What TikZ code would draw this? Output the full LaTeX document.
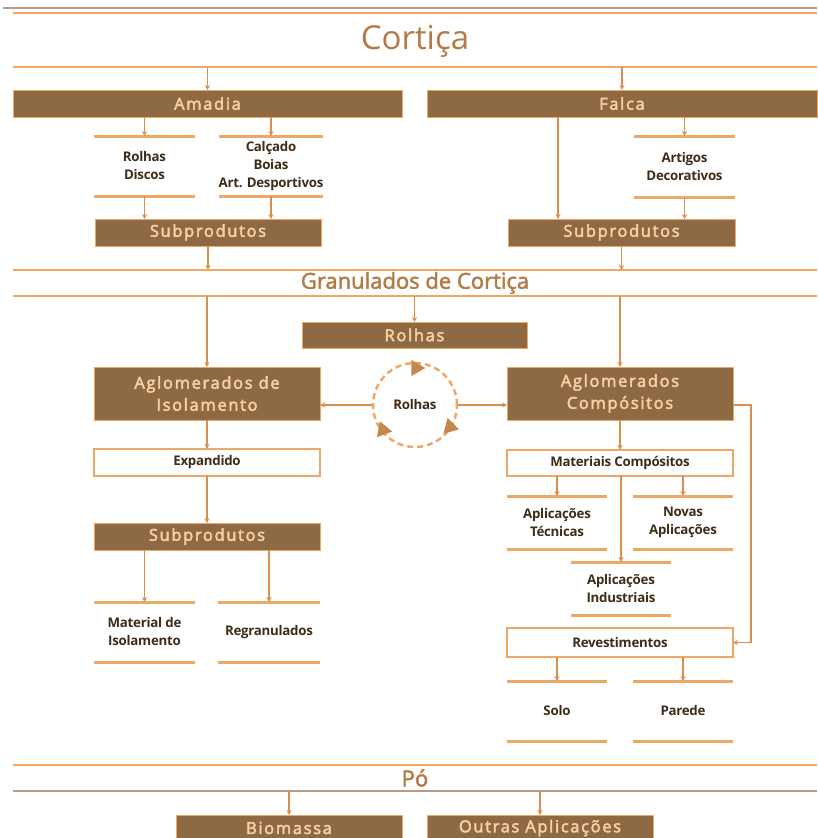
\documentclass[tikz,border=0pt]{standalone}
\usepackage{fontspec}
\setmainfont{Open Sans}
\newfontfamily\boxfont[LetterSpace=10,FakeBold=3]{Open Sans}
\newfontfamily\headfont[FakeBold=2]{Open Sans}
\newfontfamily\labfont[LetterSpace=-2]{Open Sans}
\usetikzlibrary{arrows.meta,shapes.geometric,calc}

\definecolor{boxbrown}{HTML}{8E6A44}
\definecolor{peach}{HTML}{F6CFA2}
\definecolor{lineorange}{HTML}{EFA766}
\definecolor{arrowor}{HTML}{D98F4E}
\definecolor{titlecol}{HTML}{B27A45}
\definecolor{darktext}{HTML}{3F2C18}
\definecolor{graysep}{HTML}{B79C86}
\definecolor{tricol}{HTML}{C4874C}

\tikzset{
  darkbox/.style={fill=boxbrown, draw=lineorange, line width=0.8pt, inner sep=0pt, outer sep=0pt,
    text=peach, font=\boxfont\fontsize{16.5}{22}\selectfont, align=center,
    minimum width=226pt, minimum height=27pt},
  whitebox/.style={fill=white, draw=lineorange, line width=1.5pt, inner sep=0pt, outer sep=0pt,
    text=darktext, font=\labfont\bfseries\fontsize{13.3}{18}\selectfont, align=center,
    minimum width=226pt, minimum height=27pt},
  barred/.style={inner sep=0pt, outer sep=0pt, text=darktext, align=center,
    font=\labfont\bfseries\fontsize{13.3}{18}\selectfont, minimum width=101pt, minimum height=60pt},
  band/.style={inner sep=0pt, outer sep=0pt, text=titlecol, minimum width=804pt},
  bar/.style={draw=lineorange, line width=3pt},
  sepline/.style={draw=lineorange, line width=2.5pt},
  thinsep/.style={draw=graysep, line width=1.3pt},
  arr/.style={draw=arrowor, line width=1.4pt, -{Stealth[length=5pt,width=5pt]}},
  tri/.style={isosceles triangle, isosceles triangle apex angle=60, fill=tricol,
    inner sep=0pt, minimum height=14pt},
}

\begin{document}
\begin{tikzpicture}[x=1pt,y=-1pt]
\useasboundingbox (0,0) rectangle (817,838);

% title band
\draw[thinsep] (3,8) -- (817,8);
\node[band, minimum height=52pt, font=\fontsize{33}{36}\selectfont] (cortica) at (415,41) {Cortiça};
\draw[sepline] (13,13) -- (817,13);
\draw[sepline] (cortica.south west) -- (cortica.south east);

% first level
\node[darkbox, minimum width=389pt] (amadia) at (207.5,103.5) {Amadia};
\node[darkbox, minimum width=390pt] (falca) at (622,103.5) {Falca};

\node[barred] (rd) at (144.5,166) {Rolhas\\Discos};
\node[barred, minimum width=100pt] (cb) at (271,166) {Calçado\\Boias\\Art. Desportivos};
\node[barred, minimum height=61pt] (ad) at (684.5,166.5) {Artigos\\Decorativos};

\node[darkbox] (subL) at (208,232.5) {Subprodutos};
\node[darkbox, minimum width=227pt] (subR) at (621.5,232.5) {Subprodutos};

% granulados band
\node[band, minimum height=26pt, font=\headfont\fontsize{22}{24}\selectfont] (gran) at (415,283) {Granulados de Cortiça};
\draw[sepline] (gran.north west) -- (gran.north east);
\draw[sepline] (gran.south west) -- (gran.south east);

\node[darkbox, minimum width=225pt, minimum height=26pt] (rolhas) at (414.5,335) {Rolhas};
\node[darkbox, minimum height=53pt] (agiso) at (207,393.5) {Aglomerados de\\Isolamento};
\node[darkbox, minimum height=53pt] (agcomp) at (620,393.5) {Aglomerados\\Compósitos};

% recycling circle
\node[circle, draw=lineorange, line width=2.5pt, dash pattern=on 6pt off 4pt,
  minimum size=84pt, inner sep=0pt, text=darktext,
  font=\labfont\bfseries\fontsize{13.3}{18}\selectfont] (cycle) at (415,405) {Rolhas};
\node[tri] (t1) at ($(cycle.center)+(1,-37)$) {};
\node[tri, rotate=-15] (t2) at ($(cycle.center)+(35,22)$) {};
\node[tri, rotate=-10] (t3) at ($(cycle.center)+(-32,25)$) {};

% insulation branch
\node[whitebox] (expand) at (207,462.5) {Expandido};
\node[darkbox] (subI) at (207,536.5) {Subprodutos};
\node[barred] (mi) at (144.5,632) {Material de\\Isolamento};
\node[barred, minimum width=102pt] (rg) at (269,632) {Regranulados};

% composite branch
\node[whitebox, minimum height=26pt] (mat) at (620,463) {Materiais Compósitos};
\node[barred, minimum width=100pt, minimum height=53pt] (at) at (557,522.5) {Aplicações\\Técnicas};
\node[barred, minimum width=100pt, minimum height=53pt] (na) at (683,522.5) {Novas\\Aplicações};
\node[barred, minimum width=100pt, minimum height=53pt] (ai) at (621,588.5) {Aplicações\\Industriais};
\node[whitebox, minimum height=29pt] (revest) at (620,642.5) {Revestimentos};
\node[barred, minimum width=100pt] (so) at (557,711) {Solo};
\node[barred, minimum width=100pt] (pa) at (683,711) {Parede};

% dust band
\node[band, minimum height=26pt, font=\headfont\fontsize{22}{24}\selectfont] (po) at (415,778) {Pó};
\draw[sepline] (po.north west) -- (po.north east);
\draw[thinsep] (po.south west) -- (po.south east);
\node[darkbox, minimum height=26pt] (bio) at (289,828) {Biomassa};
\node[darkbox, minimum height=26pt] (outras) at (540,828) {Outras Aplicações};

% bars above and below the plain labels
\foreach \n in {rd,cb,ad,mi,rg,at,na,ai,so,pa}{
  \draw[bar] (\n.north west) -- (\n.north east) (\n.south west) -- (\n.south east);
}

% connectors
\coordinate (fx) at (558,0);
\draw[arr] (cortica.south -| amadia.north) -- (amadia.north);
\draw[arr] (cortica.south -| falca.north) -- (falca.north);
\draw[arr] (rd.north |- amadia.south) -- (rd.north);
\draw[arr] (cb.north |- amadia.south) -- (cb.north);
\draw[arr] (rd.south) -- (rd.south |- subL.north);
\draw[arr] (cb.south) -- (cb.south |- subL.north);
\draw[arr] (ad.north |- falca.south) -- (ad.north);
\draw[arr] (ad.south) -- (ad.south |- subR.north);
\draw[arr] (falca.south -| fx) -- (subR.north -| fx);
\draw[arr] (subL.south) -- (subL.south |- gran.north);
\draw[arr] (subR.south) -- (subR.south |- gran.north);

\draw[arr] (agiso.north |- gran.south) -- (agiso.north);
\draw[arr] (rolhas.north |- gran.south) -- (rolhas.north);
\draw[arr] (agcomp.north |- gran.south) -- (agcomp.north);
\draw[arr] (cycle.west) -- (cycle.west -| agiso.east);
\draw[arr] (cycle.east) -- (cycle.east -| agcomp.west);

\draw[arr] (agiso.south) -- (expand.north);
\draw[arr] (expand.south) -- (subI.north);
\draw[arr] (mi.north |- subI.south) -- (mi.north);
\draw[arr] (rg.north |- subI.south) -- (rg.north);

\draw[arr] (agcomp.south) -- (mat.north);
\draw[arr] (at.north |- mat.south) -- (at.north);
\draw[arr] (na.north |- mat.south) -- (na.north);
\draw[arr] (ai.north |- mat.south) -- (ai.north);
\draw[arr] (cycle.east -| agcomp.east) -- ++(18,0) |- (revest.east);
\draw[arr] (so.north |- revest.south) -- (so.north);
\draw[arr] (pa.north |- revest.south) -- (pa.north);

\draw[arr] (bio.north |- po.south) -- (bio.north);
\draw[arr] (outras.north |- po.south) -- (outras.north);
\end{tikzpicture}
\end{document}
